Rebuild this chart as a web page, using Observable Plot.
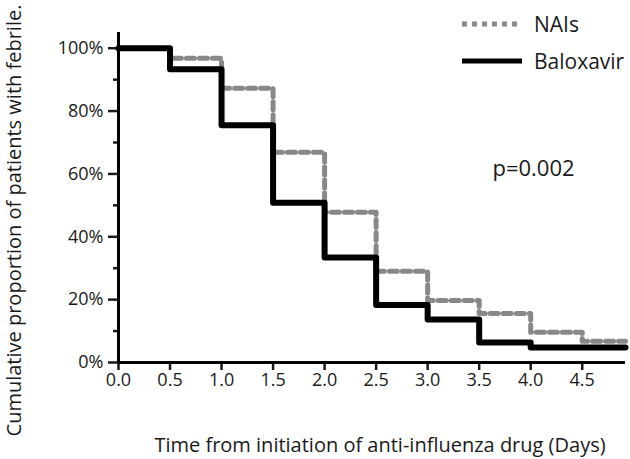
<!DOCTYPE html>
<html><head><meta charset="utf-8">
<script src="https://cdn.jsdelivr.net/npm/d3@7"></script>
<script src="https://cdn.jsdelivr.net/npm/@observablehq/plot@0.6"></script>
<style>
body{margin:0;background:#fff;font-family:"Open Sans",sans-serif;}
#wrap{position:relative;width:630px;height:459px;}
#legend{position:absolute;left:0;top:0;}
</style>
</head><body><div id="wrap"></div>
<script>
// Data
const days = [0, 0.5, 1.0, 1.5, 2.0, 2.5, 3.0, 3.5, 4.0, 4.5, 4.92];
const naisPct = [100, 96.8, 87.3, 66.9, 47.8, 29.0, 19.7, 15.6, 9.6, 6.8, 6.8];
const baloxavirPct = [100, 93.3, 75.5, 50.8, 33.4, 18.3, 13.7, 6.4, 4.8, 4.8, 4.8];
const seriesNames = ["NAIs", "Baloxavir"];
const yTicks = [0, 20, 40, 60, 80, 100];
const yMinorTicks = [10, 30, 50, 70, 90];
const xTicks = [0, 0.5, 1.0, 1.5, 2.0, 2.5, 3.0, 3.5, 4.0, 4.5];
const pLabel = "p=0.002";
const xTitle = "Time from initiation of anti-influenza drug (Days)";
const yTitle = "Cumulative proportion of patients with febrile.";

const rows = [];
days.forEach((d, i) => rows.push({day: d, pct: naisPct[i], group: seriesNames[0]}));
days.forEach((d, i) => rows.push({day: d, pct: baloxavirPct[i], group: seriesNames[1]}));

const chart = Plot.plot({
  width: 630, height: 459,
  marginLeft: 118, marginRight: 5, marginTop: 32, marginBottom: 97,
  style: {fontFamily: "Open Sans", fontSize: "18px", color: "#1a1a1a", background: "white"},
  x: {domain: [0, 4.92]},
  y: {domain: [0, 105]},
  marks: [
    Plot.axisY({ticks: yTicks, tickFormat: d => d + "%", tickSize: 10, tickPadding: 5, strokeWidth: 2.5, label: null, fontSize: 18}),
    Plot.axisY({ticks: yMinorTicks, tickSize: 5, strokeWidth: 2.5, text: null, label: null}),
    Plot.axisX({ticks: xTicks, tickFormat: d3.format(".1f"), tickSize: 8, tickPadding: 3, strokeWidth: 2.5, label: null, fontSize: 18}),
    Plot.line(rows.filter(d => d.group === seriesNames[0]), {x: "day", y: "pct", curve: "step-after", stroke: "#888", strokeWidth: 5, strokeDasharray: "8,5"}),
    Plot.line(rows.filter(d => d.group === seriesNames[1]), {x: "day", y: "pct", curve: "step-after", stroke: "#000", strokeWidth: 6}),
    Plot.ruleX([0], {stroke: "#000", strokeWidth: 3}),
    Plot.ruleY([0], {stroke: "#000", strokeWidth: 3}),
    Plot.text([pLabel], {text: d => d, frameAnchor: "top-left", dx: 415, dy: 136, fontSize: 22, textAnchor: "middle", lineAnchor: "middle", fill: "#1a1a1a"}),
    Plot.text([xTitle], {text: d => d, frameAnchor: "bottom", dx: 8, dy: 83, fontSize: 20, textAnchor: "middle", lineAnchor: "middle", fill: "#1a1a1a"}),
    Plot.text([yTitle], {text: d => d, frameAnchor: "left", dx: -104, dy: 23, rotate: -90, fontSize: 20, textAnchor: "middle", lineAnchor: "middle", fill: "#1a1a1a"})
  ]
});
const wrap = document.getElementById("wrap");
wrap.appendChild(chart);

// Legend overlay
const ns = "http://www.w3.org/2000/svg";
const lg = document.createElementNS(ns, "svg");
lg.setAttribute("id", "legend");
lg.setAttribute("width", 630);
lg.setAttribute("height", 80);
const legendStyles = [
  {stroke: "#888", width: 5, dash: "5,5", y: 24},
  {stroke: "#000", width: 5, dash: null, y: 61}
];
seriesNames.forEach((name, i) => {
  const s = legendStyles[i];
  const l = document.createElementNS(ns, "line");
  l.setAttribute("x1", 462); l.setAttribute("x2", 522);
  l.setAttribute("y1", s.y); l.setAttribute("y2", s.y);
  l.setAttribute("stroke", s.stroke); l.setAttribute("stroke-width", s.width);
  if (s.dash) l.setAttribute("stroke-dasharray", s.dash);
  lg.appendChild(l);
  const t = document.createElementNS(ns, "text");
  t.setAttribute("x", 534); t.setAttribute("y", s.y + 8);
  t.setAttribute("font-family", "Open Sans"); t.setAttribute("font-size", 21);
  t.setAttribute("fill", "#1a1a1a");
  t.textContent = name;
  lg.appendChild(t);
});
wrap.appendChild(lg);
</script>
</body></html>
